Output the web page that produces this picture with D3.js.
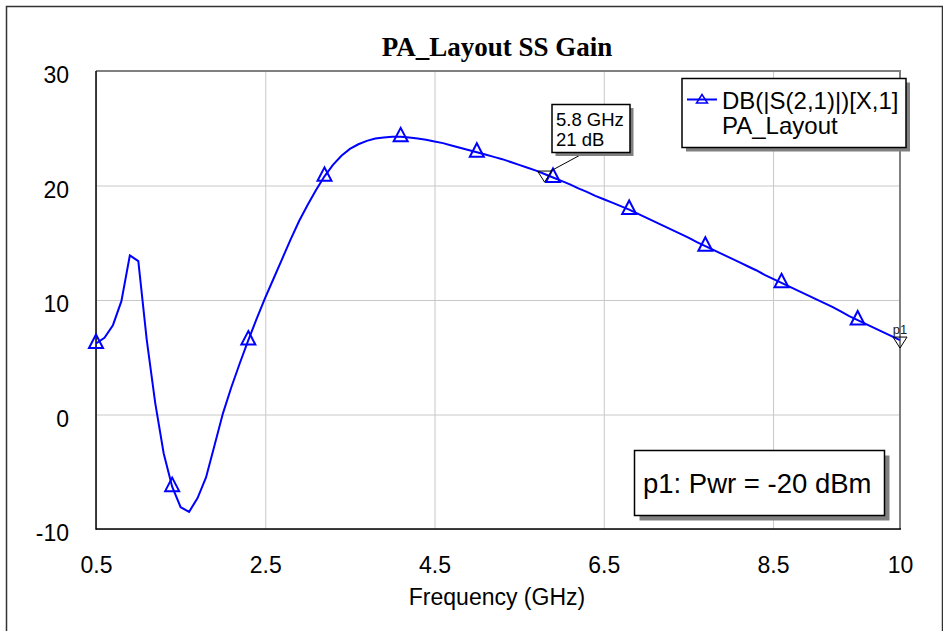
<!DOCTYPE html>
<html>
<head>
<meta charset="utf-8">
<script src="https://cdn.jsdelivr.net/npm/d3@7"></script>
<style>
  html, body { margin: 0; padding: 0; background: #fff; }
  svg { display: block; }
</style>
</head>
<body>
<svg id="chart" width="943" height="631"></svg>
<script>
// Sweep frequencies (GHz), 0.1 GHz step
const freqGHz = [
  0.5, 0.6, 0.7, 0.8, 0.9, 1.0, 1.1, 1.2, 1.3, 1.4,
  1.5, 1.6, 1.7, 1.8, 1.9, 2.0, 2.1, 2.2, 2.3, 2.4,
  2.5, 2.6, 2.7, 2.8, 2.9, 3.0, 3.1, 3.2, 3.3, 3.4,
  3.5, 3.6, 3.7, 3.8, 3.9, 4.0, 4.1, 4.2, 4.3, 4.4,
  4.5, 4.6, 4.7, 4.8, 4.9, 5.0, 5.1, 5.2, 5.3, 5.4,
  5.5, 5.6, 5.7, 5.8, 5.9, 6.0, 6.1, 6.2, 6.3, 6.4,
  6.5, 6.6, 6.7, 6.8, 6.9, 7.0, 7.1, 7.2, 7.3, 7.4,
  7.5, 7.6, 7.7, 7.8, 7.9, 8.0, 8.1, 8.2, 8.3, 8.4,
  8.5, 8.6, 8.7, 8.8, 8.9, 9.0, 9.1, 9.2, 9.3, 9.4,
  9.5, 9.6, 9.7, 9.8, 9.9, 10.0
];

// DB(|S(2,1)|) of PA_Layout, dB
const gainDB = [
  6.2, 6.7, 7.8, 9.9, 13.9, 13.4, 6.5, 1.0, -3.4, -6.3,
  -8.1, -8.5, -7.3, -5.5, -2.7, 0.1, 2.4, 4.5, 6.5, 8.4,
  10.2, 11.9, 13.6, 15.3, 16.9, 18.3, 19.6, 20.8, 21.8, 22.6,
  23.2, 23.6, 23.9, 24.1, 24.2, 24.25, 24.25, 24.2, 24.1, 24.0,
  23.85, 23.7, 23.5, 23.3, 23.1, 22.9, 22.7, 22.5, 22.3, 22.05,
  21.8, 21.55, 21.3, 21.0, 20.7, 20.4, 20.1, 19.75, 19.45, 19.1,
  18.8, 18.5, 18.2, 17.9, 17.55, 17.2, 16.85, 16.5, 16.15, 15.8,
  15.45, 15.05, 14.7, 14.35, 14.0, 13.65, 13.3, 12.95, 12.6, 12.2,
  11.85, 11.5, 11.15, 10.8, 10.45, 10.1, 9.75, 9.4, 9.0, 8.6,
  8.25, 7.9, 7.55, 7.2, 6.85, 6.5
];

const xTicks = [0.5, 2.5, 4.5, 6.5, 8.5, 10];
const yTicks = [-10, 0, 10, 20, 30];

const titleText = "PA_Layout SS Gain";
const xTitle = "Frequency (GHz)";
const legendLines = ["DB(|S(2,1)|)[X,1]", "PA_Layout"];
const paramNote = "p1: Pwr = -20 dBm";

// Marker readout on the trace
const markerFreq = 5.8;
const markerGain = 21;
const markerLines = ["5.8 GHz", "21 dB"];
// Parameter marker at the sweep end
const paramMarkerFreq = 10;
const paramMarkerLabel = "p1";

const symbolEvery = 9;

// ---------------------------------------------------------------
const W = 943, H = 631;
const plot = { left: 96, top: 71, right: 900, bottom: 529 };
const sans = "'Liberation Sans', Arial, sans-serif";
const serif = "'Liberation Serif', 'Times New Roman', serif";
const traceBlue = "#0000ff";

const svg = d3.select("#chart");

const x = d3.scaleLinear().domain([0.5, 10]).range([plot.left, plot.right]);
const y = d3.scaleLinear().domain([-10, 30]).range([plot.bottom, plot.top]);

const series = freqGHz.map((f, i) => ({ f, g: gainDB[i] }));

// outer frame
svg.append("path")
  .attr("d", `M6.5,${H + 2} V6.5 H942.5 V${H + 2}`)
  .attr("fill", "none").attr("stroke", "#333").attr("stroke-width", 1.5);

// title
svg.append("text")
  .attr("x", (plot.left + plot.right) / 2 - 1).attr("y", 55.5)
  .attr("text-anchor", "middle")
  .style("font-family", serif).style("font-weight", "bold").style("font-size", "27px")
  .text(titleText);

// grid + tick labels
const xAxis = d3.axisBottom(x).tickValues(xTicks)
  .tickFormat(d => String(d))
  .tickSizeInner(-(plot.bottom - plot.top)).tickSizeOuter(0).tickPadding(27.5);
const gx = svg.append("g").attr("transform", `translate(0,${plot.bottom})`).call(xAxis);

const yAxis = d3.axisLeft(y).tickValues(yTicks)
  .tickFormat(d => String(d))
  .tickSizeInner(-(plot.right - plot.left)).tickSizeOuter(0).tickPadding(27);
const gy = svg.append("g").attr("transform", `translate(${plot.left},0)`).call(yAxis);

[gx, gy].forEach(g => {
  g.select(".domain").remove();
  g.selectAll(".tick line").attr("stroke", "#c8c8c8").attr("stroke-width", 1);
  g.selectAll(".tick text")
    .attr("fill", "#000")
    .style("font-family", sans).style("font-size", "23px");
});
gy.selectAll(".tick text").attr("dy", "0.5em");

// plot frame: gray top/right, black left/bottom
svg.append("line").attr("x1", plot.left).attr("x2", plot.right + 1)
  .attr("y1", plot.top).attr("y2", plot.top)
  .attr("stroke", "#808080").attr("stroke-width", 2);
svg.append("line").attr("x1", plot.right).attr("x2", plot.right)
  .attr("y1", plot.top).attr("y2", plot.bottom)
  .attr("stroke", "#808080").attr("stroke-width", 2);
svg.append("line").attr("x1", plot.left).attr("x2", plot.left)
  .attr("y1", plot.top).attr("y2", plot.bottom + 0.75)
  .attr("stroke", "#000").attr("stroke-width", 1.5);
svg.append("line").attr("x1", plot.left).attr("x2", plot.right + 1)
  .attr("y1", plot.bottom).attr("y2", plot.bottom)
  .attr("stroke", "#000").attr("stroke-width", 1.5);

// x axis title
svg.append("text")
  .attr("x", (plot.left + plot.right) / 2 - 1).attr("y", 605)
  .attr("text-anchor", "middle")
  .style("font-family", sans).style("font-size", "23px")
  .text(xTitle);

// trace
const line = d3.line().x(d => x(d.f)).y(d => y(d.g));
svg.append("path").datum(series)
  .attr("d", line)
  .attr("fill", "none").attr("stroke", traceBlue).attr("stroke-width", 2)
  .attr("stroke-linejoin", "miter");

// open triangle symbols along the trace
const tri = (cx, cy, hw, up, dn) => `M${cx},${cy - up} L${cx + hw},${cy + dn} L${cx - hw},${cy + dn} Z`;
svg.append("g").selectAll("path")
  .data(series.filter((d, i) => i % symbolEvery === 0))
  .join("path")
  .attr("d", d => tri(x(d.f), y(d.g), 7, 9, 4.5))
  .attr("fill", "none").attr("stroke", traceBlue).attr("stroke-width", 2);

// inverted-triangle marker + readout box
const invTri = (cx, cy) => `M${cx - 7},${cy - 3} L${cx + 7},${cy - 3} L${cx},${cy + 8} Z`;
const mx = x(markerFreq), my = y(markerGain);
svg.append("line")
  .attr("x1", mx + 6).attr("y1", my - 3)
  .attr("x2", 584).attr("y2", 153)
  .attr("stroke", "#000").attr("stroke-width", 1);
svg.append("path").attr("d", invTri(mx, my))
  .attr("fill", "none").attr("stroke", "#000").attr("stroke-width", 1);

function noteBox(x0, y0, w, h, off) {
  svg.append("rect").attr("x", x0 + off).attr("y", y0 + off)
    .attr("width", w).attr("height", h).attr("fill", "#808080");
  svg.append("rect").attr("x", x0).attr("y", y0)
    .attr("width", w).attr("height", h)
    .attr("fill", "#fff").attr("stroke", "#000").attr("stroke-width", 1.5);
}

noteBox(552, 104.5, 78, 48, 3.5);
markerLines.forEach((t, i) => {
  svg.append("text").attr("x", 556).attr("y", 126 + i * 20)
    .style("font-family", sans).style("font-size", "18.5px").text(t);
});

// p1 marker at the end of the sweep
const pEnd = series.find(d => d.f === paramMarkerFreq);
const px = x(pEnd.f), py = y(pEnd.g);
svg.append("path").attr("d", invTri(px, py))
  .attr("fill", "none").attr("stroke", "#000").attr("stroke-width", 1);
svg.append("text").attr("x", px).attr("y", py - 6)
  .attr("text-anchor", "middle").attr("fill", "#222")
  .style("font-family", sans).style("font-size", "13px").text(paramMarkerLabel);

// legend
noteBox(682, 78.5, 224, 69, 4);
svg.append("line").attr("x1", 687).attr("x2", 717).attr("y1", 99.5).attr("y2", 99.5)
  .attr("stroke", traceBlue).attr("stroke-width", 2);
svg.append("path").attr("d", tri(702, 99.5, 5.5, 5, 3.5))
  .attr("fill", "none").attr("stroke", traceBlue).attr("stroke-width", 1.5);
legendLines.forEach((t, i) => {
  svg.append("text").attr("x", 722).attr("y", 108.5 + i * 25.5)
    .style("font-family", sans).style("font-size", "24px").text(t);
});

// sweep parameter note
noteBox(634.5, 450.5, 250, 65, 5);
svg.append("text").attr("x", 643).attr("y", 493)
  .style("font-family", sans).style("font-size", "27.5px").text(paramNote);
</script>
</body>
</html>
